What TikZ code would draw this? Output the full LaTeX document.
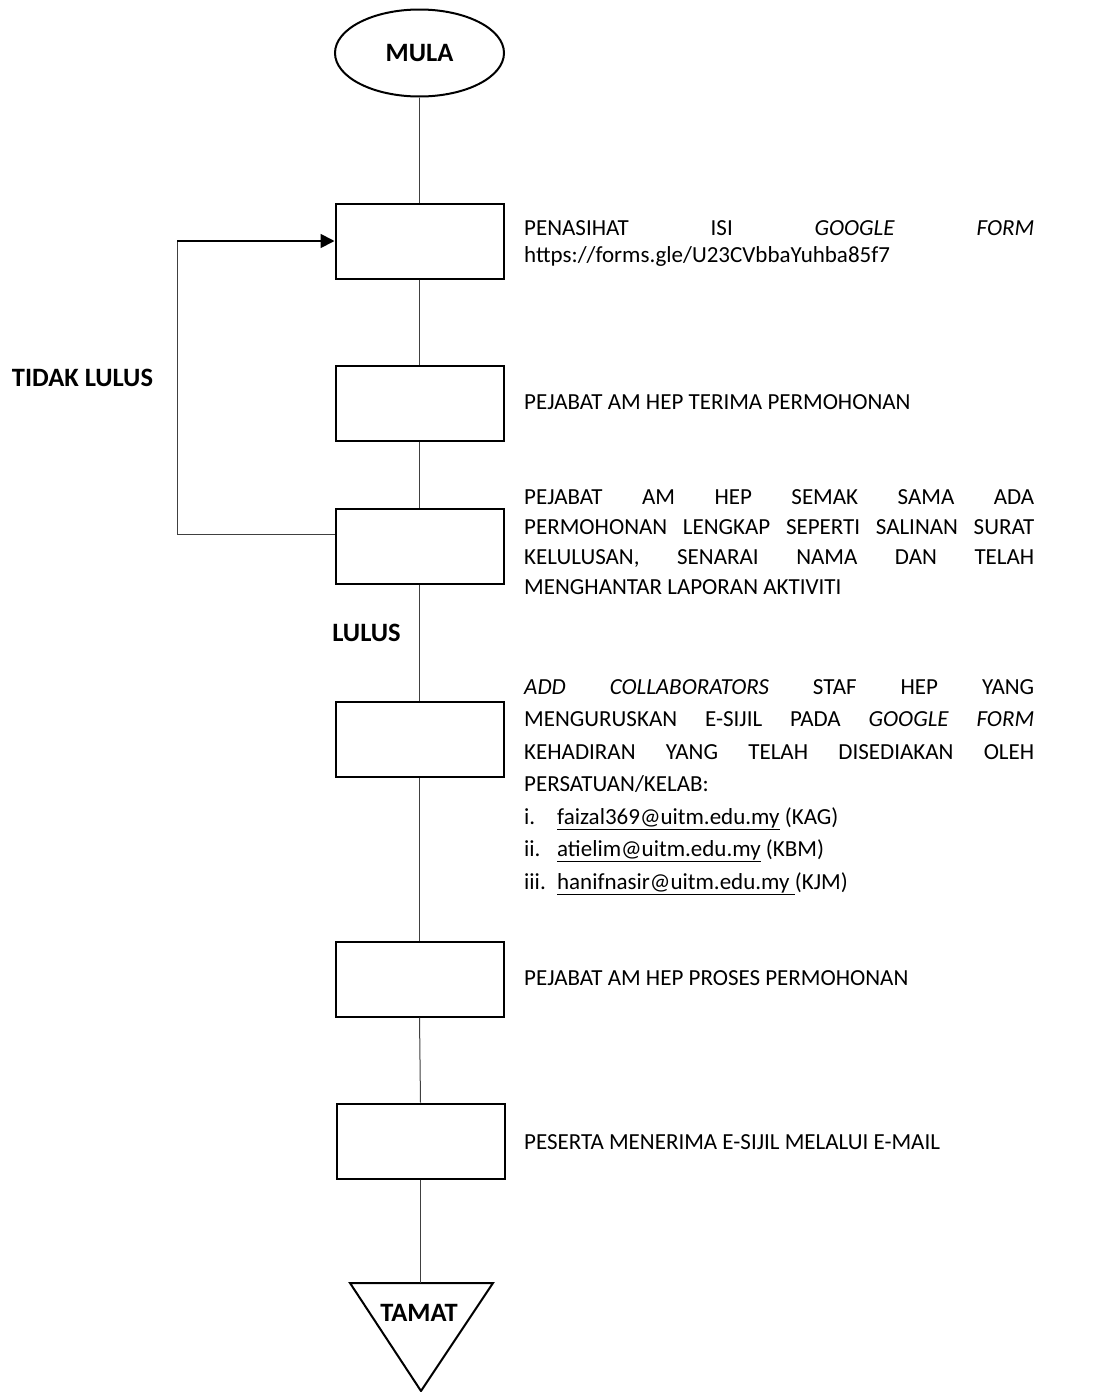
\documentclass[tikz,border=0pt]{standalone}
\usepackage{fontspec}
\setmainfont{Carlito}
\usetikzlibrary{shapes.geometric,arrows.meta}
\hbadness=10000
\hfuzz=20pt
\begin{document}
\begin{tikzpicture}[x=1pt,y=-1pt,
  box/.style={draw,line width=2pt,minimum width=168pt,minimum height=75pt,inner sep=0pt},
  conn/.style={draw=black!75,line width=1pt},
  arr/.style={draw=black,line width=1.8pt,-{Triangle[length=14pt,width=14pt]}},
  desc/.style={anchor=base west,inner sep=0pt,text width=510pt,align=justify,font=\fontsize{23}{30}\selectfont},
  lbl/.style={font=\fontsize{26.5}{30}\selectfont\bfseries,inner sep=0pt}]
\useasboundingbox (0,0) rectangle (1102,1392);

% terminal start
\node[ellipse,draw,line width=2pt,minimum width=169pt,minimum height=87pt,inner sep=0pt,lbl] (start) at (419.5,53) {MULA};

% process boxes
\node[box] (b1) at (419.5,241) {};
\node[box] (b2) at (419.5,403) {};
\node[box] (b3) at (419.5,546.5) {};
\node[box] (b4) at (419.5,739.5) {};
\node[box] (b5) at (419.5,979) {};
\node[box] (b6) at (420.5,1141) {};

% end triangle
\coordinate (tl) at (350,1283);
\coordinate (tr) at (493,1283);
\coordinate (tb) at (421,1391);
\coordinate (tt) at (420.5,1283);
\draw[line width=2pt,line join=miter] (tl) -- (tr) -- (tb) -- cycle;
\node[lbl] (endlbl) at (419,1313) {TAMAT};

% connectors
\draw[conn] (start.south) -- (b1.north);
\draw[conn] (b1.south) -- (b2.north);
\draw[conn] (b2.south) -- (b3.north);
\draw[conn] (b3.south) -- (b4.north);
\draw[conn] (b4.south) -- (b5.north);
\draw[conn] (b5.south) -- (b6.north);
\draw[conn] (b6.south) -- (tt);

% loop back
\coordinate (lc) at (177,241);
\draw[conn] ([yshift=12.5pt]b3.west) -| (lc);
\draw[arr] (lc) -- (b1.west);

% labels
\node[lbl] (tidak) at (82.5,378) {TIDAK LULUS};
\node[lbl] (lulus) at (366.5,633) {LULUS};

% descriptions
\node[desc,font=\fontsize{23}{27}\selectfont] (t1) at (524,235) {PENASIHAT ISI \textit{GOOGLE} \textit{FORM}\linebreak https://forms.gle/U23CVbbaYuhba85f7};
\node[desc] (t2) at (524,409) {PEJABAT AM HEP TERIMA PERMOHONAN};
\node[desc] (t3) at (524,504) {PEJABAT AM HEP SEMAK SAMA ADA\linebreak PERMOHONAN LENGKAP SEPERTI SALINAN SURAT\linebreak KELULUSAN, SENARAI NAMA DAN TELAH\linebreak MENGHANTAR LAPORAN AKTIVITI};
\node[desc,font=\fontsize{23}{32.5}\selectfont] (t4) at (524,694) {\textit{ADD COLLABORATORS} STAF HEP YANG\linebreak MENGURUSKAN E-SIJIL PADA \textit{GOOGLE FORM}\linebreak KEHADIRAN YANG TELAH DISEDIAKAN OLEH\linebreak PERSATUAN/KELAB:\par
\makebox[33pt][l]{i.}\underline{faizal369@uitm.edu.my} (KAG)\par
\makebox[33pt][l]{ii.}\underline{atielim@uitm.edu.my} (KBM)\par
\makebox[33pt][l]{iii.}\underline{hanifnasir@uitm.edu.my\ }(KJM)};
\node[desc] (t5) at (524,985) {PEJABAT AM HEP PROSES PERMOHONAN};
\node[desc] (t6) at (524,1149) {PESERTA MENERIMA E-SIJIL MELALUI E-MAIL};
\end{tikzpicture}
\end{document}
